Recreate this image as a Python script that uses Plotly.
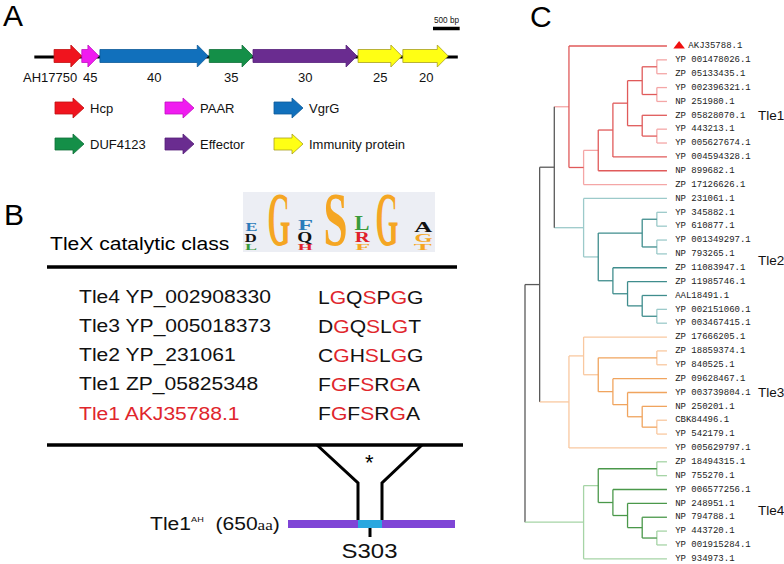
import json
import plotly.graph_objects as go

SANS = "Liberation Sans"
SERIF = "Liberation Serif"
MONO = "Liberation Mono"

# ---------------- panel A: gene cluster (bp from left end of contig line)
GENE_KIND = ["Hcp", "PAAR", "VgrG", "DUF4123", "Effector", "Immunity protein", "Immunity protein"]
GENE_LABELS = ["AH17750", "45", "40", "35", "30", "25", "20"]
GENE_START = [170, 690, 1030, 3080, 3900, 5870, 6710]
GENE_END = [690, 1010, 3060, 3900, 5850, 6690, 7560]
CONTIG_END = 7740
SCALE_BAR_BP = 500

LEGEND_NAMES = ["Hcp", "PAAR", "VgrG", "DUF4123", "Effector", "Immunity protein"]
KIND_FILL = {"Hcp": "#f0141e", "PAAR": "#f01cf0", "VgrG": "#1170bc", "DUF4123": "#148f48",
             "Effector": "#6a2c90", "Immunity protein": "#ffff14"}
KIND_EDGE = {"Hcp": "#c01010", "PAAR": "#c010c0", "VgrG": "#0c5a99", "DUF4123": "#0f7038",
             "Effector": "#55207a", "Immunity protein": "#a8a020"}

# ---------------- panel B: catalytic motif
TLE_NAMES = ["Tle4 YP_002908330", "Tle3 YP_005018373", "Tle2 YP_231061",
             "Tle1 ZP_05825348", "Tle1 AKJ35788.1"]
TLE_MOTIFS = ["LGQSPGG", "DGQSLGT", "CGHSLGG", "FGFSRGA", "FGFSRGA"]
CONSERVED_POS = [1, 3, 5]
LOGO_LETTERS = ["EDL", "G", "FQH", "S", "LRF", "G", "AGT"]
LOGO_HEIGHTS = [[9, 9, 6], [52], [10, 10, 6], [52], [14, 10, 6], [52], [10, 8, 6]]
LOGO_COLORS = [["#2b7bba", "#111111", "#3a9a3a"], ["#f5a623"], ["#2b7bba", "#111111", "#e0202a"],
               ["#f5a623"], ["#3a9a3a", "#e0202a", "#f5a623"], ["#f5a623"],
               ["#111111", "#f5a623", "#f5a623"]]
PROTEIN_LEN = 650
CATALYTIC_SITE = "S303"

# ---------------- panel C: cladogram
TLE1 = ["AKJ35788.1",
        [[[[[["YP 001478026.1", "ZP 05133435.1"], ["YP 002396321.1", "NP 251980.1"]],
            ["ZP 05828070.1", ["YP 443213.1", "YP 005627674.1"]]],
           "YP 004594328.1"], "NP 899682.1"], "ZP 17126626.1"]]
TLE2 = ["NP 231061.1",
        [[["YP 345882.1", "YP 610877.1"], ["YP 001349297.1", "NP 793265.1"]],
         ["ZP 11083947.1", ["ZP 11985746.1", ["AAL18491.1", ["YP 002151060.1", "YP 003467415.1"]]]]]]
TLE3 = [["ZP 17666205.1",
         [["ZP 18859374.1", "YP 840525.1"],
          ["ZP 09628467.1", ["YP 003739804.1", ["NP 250201.1", ["CBK84496.1", "YP 542179.1"]]]]]],
        "YP 005629797.1"]
TLE4 = [[["ZP 18494315.1", "NP 755270.1"],
         ["YP 006577256.1", ["NP 248951.1", ["NP 794788.1", ["YP 443720.1", "YP 001915284.1"]]]]],
        "YP 934973.1"]
CLADES = {"Tle1": TLE1, "Tle2": TLE2, "Tle3": TLE3, "Tle4": TLE4}
BACKBONE = [[["Tle1", "Tle2"], "Tle3"], "Tle4"]
MARKED = ["AKJ35788.1"]

CLADE_DARK = {"Tle1": "#e05a5a", "Tle2": "#3f8d8d", "Tle3": "#f0a45e", "Tle4": "#4a984a"}
CLADE_LIGHT = {"Tle1": "#f4a6a6", "Tle2": "#9ccaca", "Tle3": "#f9c8a0", "Tle4": "#a6d4a6"}
LIGHT_LEVELS = {"Tle1": [1, 6], "Tle2": [1, 6], "Tle3": [1, 6, 7], "Tle4": [1, 6]}
BACK_COLOR = "#5a5a5a"

W, H = 784, 564
BP_PER_PX = 18.75
A_X0 = 45
ROW0, ROW_STEP = 46, 13.86
LEVEL_X0, LEVEL_STEP = 671.5, 14.65
LEAF_END = 0.31

fig = go.Figure()
ann = []
stretch = {}


def add_text(text, x, y, size, color="black", anchor="left", family=SANS,
             xref="x2", yref="y", sx=None, sy=1.0):
    ann.append(dict(text=text, x=x, y=y, xref=xref, yref=yref, showarrow=False,
                    xanchor=anchor, yanchor="middle",
                    font=dict(family=family, size=size, color=color)))
    if sx is not None:
        origin = "left center" if anchor == "left" else "center"
        stretch[len(ann) - 1] = [round(sx, 3), origin, round(sy, 3)]


def arrow_xy(x0, x1, yc, body, head, head_len):
    xb = max(x0, x1 - head_len)
    xs = [x0, xb, xb, x1, xb, xb, x0, x0]
    ys = [yc - body, yc - body, yc - head, yc, yc + head, yc + body, yc + body, yc - body]
    return xs, ys


# ---- panel A
fig.add_trace(go.Scatter(x=[-200, CONTIG_END], y=[57, 57], mode="lines",
                         line=dict(color="black", width=3), xaxis="x", yaxis="y"))
for kind, s, e in zip(GENE_KIND, GENE_START, GENE_END):
    xs, ys = arrow_xy(s, e, 56, 6.5, 11, 205)
    fig.add_trace(go.Scatter(x=xs, y=ys, mode="lines", fill="toself", fillcolor=KIND_FILL[kind],
                             line=dict(color=KIND_EDGE[kind], width=0.8), xaxis="x", yaxis="y"))
for i, (lab, s, e) in enumerate(zip(GENE_LABELS, GENE_START, GENE_END)):
    ann.append(dict(text=lab, x=(s + e) / 2, y=77, xref="x", yref="y", showarrow=False,
                    xanchor="center", yanchor="middle", xshift=-18 if i == 0 else 0,
                    font=dict(family=SANS, size=13, color="#111")))

# scale bar
sb_start = (433 - A_X0) * BP_PER_PX
fig.add_trace(go.Scatter(x=[sb_start, sb_start + SCALE_BAR_BP], y=[28.5, 28.5], mode="lines",
                         line=dict(color="black", width=3.5), xaxis="x", yaxis="y"))
ann.append(dict(text=f"{SCALE_BAR_BP} bp", x=sb_start + SCALE_BAR_BP / 2, y=20, xref="x", yref="y",
                showarrow=False, font=dict(family=SANS, size=8.2, color="#111")))

# legend
for i, name in enumerate(LEGEND_NAMES):
    col, row = i % 3, i // 3
    lx = [55, 165, 274][col]
    ly = [108, 144][row]
    xs, ys = arrow_xy(lx, lx + 29, ly, 6, 10, 11)
    fig.add_trace(go.Scatter(x=xs, y=ys, mode="lines", fill="toself", fillcolor=KIND_FILL[name],
                             line=dict(color=KIND_EDGE[name], width=0.8), xaxis="x2", yaxis="y"))
    add_text(name, lx + 33, ly, 13, color="#111")

# ---- panel letters
add_text("A", 13, 15, 30, anchor="center")
add_text("B", 14, 214, 30, anchor="center")
add_text("C", 541, 16, 30, anchor="center")

# ---- panel B
shapes = []
shapes.append(dict(type="rect", xref="x2", yref="y", x0=243, x1=435, y0=192, y1=252,
                   fillcolor="#eceef4", line=dict(width=0), layer="below"))
col_x = [251, 279, 305, 335, 362, 387, 423]
col_w = [12, 23, 15, 24, 15, 23, 18]
adv = {"E": 0.667, "D": 0.722, "L": 0.667, "G": 0.778, "F": 0.611, "Q": 0.778, "H": 0.778,
       "S": 0.556, "R": 0.722, "A": 0.722, "T": 0.667}
for cx, cw, letters, heights, colors in zip(col_x, col_w, LOGO_LETTERS, LOGO_HEIGHTS, LOGO_COLORS):
    top = 193 if len(letters) == 1 else 250 - sum(heights) - 2 * (len(letters) - 1)
    y = top
    for ch, h, c in zip(letters, heights, colors):
        size = h / 0.676
        add_text(f"<b>{ch}</b>", cx, y + h / 2, size, color=c, anchor="center", family=SERIF,
                 sx=cw / (adv[ch] * size))
        y += h + 2

add_text("TleX catalytic class", 48, 243, 18.5, sx=1.14)
shapes.append(dict(type="line", xref="x2", yref="y", x0=47, x1=457, y0=267, y1=267,
                   line=dict(color="black", width=3.5)))
for i, (name, motif) in enumerate(zip(TLE_NAMES, TLE_MOTIFS)):
    y = 297 + 29 * i
    red = i == len(TLE_NAMES) - 1
    add_text(name, 77, y, 18.5, color="#e0262c" if red else "#111", sx=1.14)
    seq = "".join(f"<span style='color:#e0262c'>{c}</span>" if k in CONSERVED_POS else c
                  for k, c in enumerate(motif))
    add_text(seq, 316, y, 18.5, color="#111", sx=1.14)

shapes.append(dict(type="line", xref="x2", yref="y", x0=47, x1=463, y0=445, y1=445,
                   line=dict(color="black", width=3.5)))
shapes.append(dict(type="path", xref="x2", yref="y", path="M317,445 L358,483 L358,520",
                   line=dict(color="black", width=3)))
shapes.append(dict(type="path", xref="x2", yref="y", path="M422,445 L382,483 L382,520",
                   line=dict(color="black", width=3)))
add_text("*", 369, 462, 22, anchor="center")

# protein bar: residues mapped onto 288..455 px
aa_px = (455 - 288) / PROTEIN_LEN
shapes.append(dict(type="rect", xref="x2", yref="y", x0=288, x1=288 + PROTEIN_LEN * aa_px,
                   y0=520, y1=528, fillcolor="#7f45d6", line=dict(width=0)))
shapes.append(dict(type="rect", xref="x2", yref="y", x0=358, x1=382, y0=520, y1=528,
                   fillcolor="#2aa7df", line=dict(width=0)))
shapes.append(dict(type="line", xref="x2", yref="y", x0=370, x1=370, y0=528, y1=537,
                   line=dict(color="black", width=3)))
add_text("Tle1<sup><span style='font-size:8px'>AH</span></sup>  (" + str(PROTEIN_LEN)
         + f"<span style='font-family:{SERIF};font-size:15px'>aa</span>)",
         148, 523, 18.5, color="#111", sx=1.14)
add_text(CATALYTIC_SITE, 369, 550, 21, color="#111", anchor="center", sx=1.14)

# ---- panel C: cladogram
segments = {}
leaves = []
leaf_clade = []


def seg(color, x0, y0, x1, y1):
    segments.setdefault(color, []).append((x0, y0, x1, y1))


def walk(node, clade):
    if isinstance(node, str):
        if clade is None:
            y, h, _ = walk(CLADES[node], node)
            return y, h, node
        leaves.append(node)
        leaf_clade.append(clade)
        return len(leaves) - 1, 0, None
    kids = [walk(child, clade) for child in node]
    hgt = max(k[1] for k in kids) + 1
    if clade is None:
        vcol = BACK_COLOR
    else:
        vcol = CLADE_LIGHT[clade] if hgt in LIGHT_LEVELS[clade] else CLADE_DARK[clade]
    ys = [k[0] for k in kids]
    seg(vcol, hgt, min(ys), hgt, max(ys))
    for y, h, root_of in kids:
        hcol = CLADE_LIGHT[root_of] if root_of else vcol
        seg(hcol, hgt, y, h if h > 0 else LEAF_END, y)
    return sum(ys) / len(ys), hgt, None


walk(BACKBONE, None)

for color, segs in segments.items():
    xs, ys = [], []
    for x0, y0, x1, y1 in segs:
        xs += [x0, x1, None]
        ys += [y0, y1, None]
    fig.add_trace(go.Scatter(x=xs, y=ys, mode="lines", line=dict(color=color, width=1.3),
                             xaxis="x3", yaxis="y3"))

label_x = [-1.15 if name in MARKED else -0.25 for name in leaves]
fig.add_trace(go.Scatter(x=label_x, y=list(range(len(leaves))), mode="text", text=leaves,
                         textposition="middle right",
                         textfont=dict(family=MONO, size=9, color="#222"),
                         xaxis="x3", yaxis="y3"))
marked_y = [leaves.index(n) for n in MARKED]
fig.add_trace(go.Scatter(x=[-0.52] * len(marked_y), y=marked_y, mode="markers",
                         marker=dict(symbol="triangle-up", size=10, color="#f01010"),
                         xaxis="x3", yaxis="y3"))
for clade in CLADES:
    rows = [i for i, c in enumerate(leaf_clade) if c == clade]
    add_text(clade, 756, (ROW0 + ROW_STEP * sum(rows) / len(rows)), 13.5, color="#111")

ax = dict(visible=False, showgrid=False, zeroline=False, fixedrange=True, domain=[0, 1])
fig.update_layout(
    width=W, height=H, margin=dict(l=0, r=0, t=0, b=0),
    paper_bgcolor="white", plot_bgcolor="white", showlegend=False, hovermode=False,
    xaxis=dict(ax, range=[-A_X0 * BP_PER_PX, (W - A_X0) * BP_PER_PX]),
    xaxis2=dict(ax, range=[0, W], overlaying="x", anchor="y"),
    xaxis3=dict(ax, range=[LEVEL_X0 / LEVEL_STEP, (LEVEL_X0 - W) / LEVEL_STEP],
                overlaying="x", anchor="y3"),
    yaxis=dict(ax, range=[H, 0]),
    yaxis3=dict(ax, range=[(H - ROW0) / ROW_STEP, -ROW0 / ROW_STEP], overlaying="y", anchor="x3"),
    annotations=ann, shapes=shapes,
)

js = """
document.body.style.margin = '0';
document.body.style.padding = '0';
document.body.style.overflow = 'hidden';
var gd = document.getElementById('{plot_id}');
var st = STRETCH;
function squeeze() {
  Object.keys(st).forEach(function (k) {
    var t = gd.querySelector('.annotation[data-index="' + k + '"] .annotation-text');
    if (!t) return;
    t.style.transformBox = 'fill-box';
    t.style.transformOrigin = st[k][1];
    t.style.transform = 'scale(' + st[k][0] + ',' + st[k][2] + ')';
  });
}
squeeze();
gd.on('plotly_afterplot', squeeze);
""".replace("STRETCH", json.dumps(stretch))

fig.write_html("out.html", post_script=js, config={"displayModeBar": False})
